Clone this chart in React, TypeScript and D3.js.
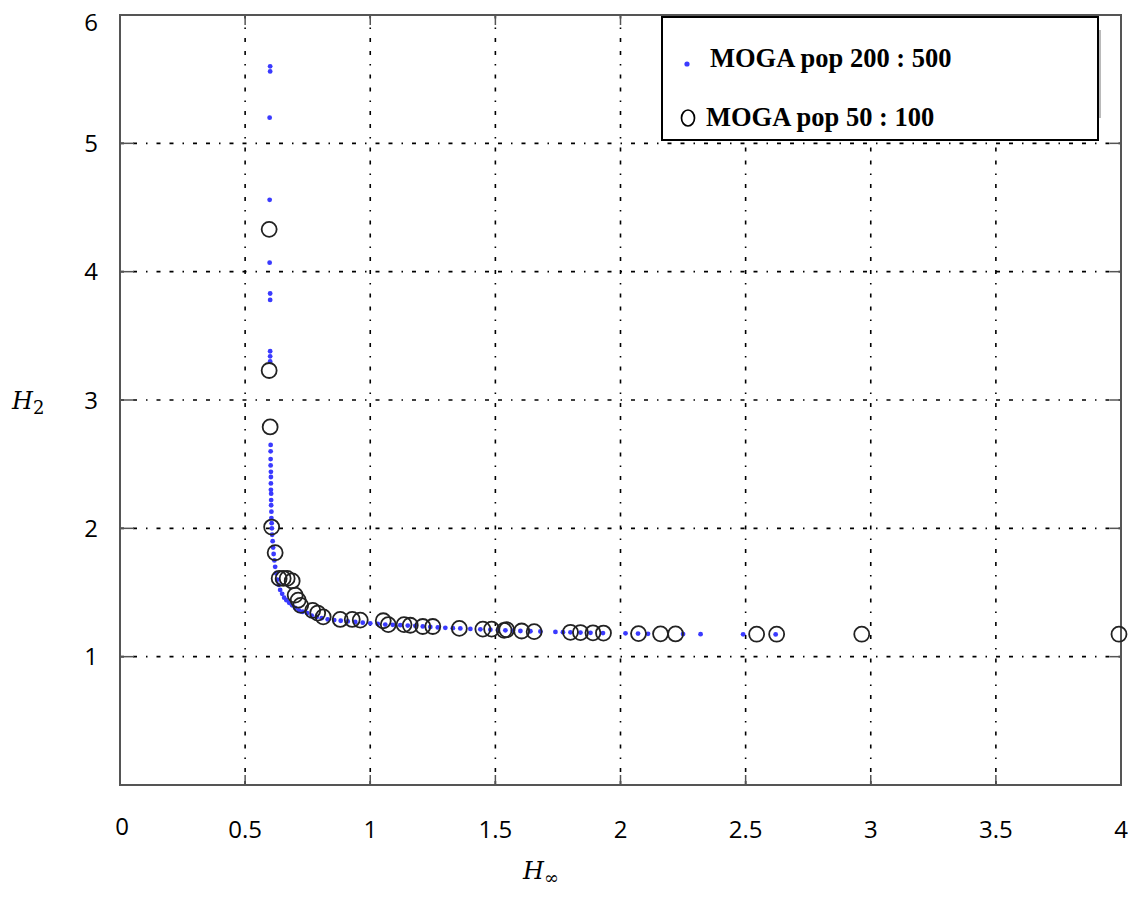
import React from 'react';
import * as d3 from 'd3';

// MOGA pop 200 : 500 (small blue dots)
const moga200X = [
  0.600, 0.600, 0.598, 0.598, 0.598, 0.600, 0.600, 0.600, 0.600, 0.600,
  0.602, 0.602, 0.602, 0.602, 0.603, 0.603, 0.603, 0.603, 0.604, 0.604, 0.604, 0.605, 0.605, 0.606, 0.607, 0.608,
  0.610, 0.612, 0.614, 0.617, 0.620, 0.624, 0.628, 0.634, 0.640, 0.648, 0.656, 0.665, 0.676, 0.688, 0.700,
  0.715, 0.730, 0.748, 0.766, 0.786, 0.806, 0.830, 0.856, 0.882, 0.910, 0.940, 0.970, 1.000, 1.030, 1.060,
  1.090, 1.120, 1.150, 1.180, 1.210, 1.240, 1.270, 1.300, 1.330, 1.360, 1.400, 1.440, 1.480, 1.510, 1.540,
  1.570, 1.600, 1.640, 1.680, 1.740, 1.770, 1.800, 1.840, 1.880, 1.930, 2.020, 2.070, 2.110, 2.250, 2.320,
  2.490, 2.620,
];
const moga200Y = [
  5.60, 5.56, 5.20, 4.56, 4.07, 3.83, 3.78, 3.38, 3.34, 3.30,
  2.65, 2.60, 2.54, 2.49, 2.44, 2.40, 2.35, 2.30, 2.27, 2.22, 2.18, 2.13, 2.08, 2.04, 2.00, 1.95,
  1.90, 1.85, 1.80, 1.75, 1.70, 1.65, 1.60, 1.56, 1.52, 1.49, 1.46, 1.44, 1.42, 1.40, 1.38,
  1.36, 1.35, 1.34, 1.32, 1.31, 1.30, 1.29, 1.285, 1.28, 1.275, 1.27, 1.265, 1.26, 1.255, 1.25,
  1.248, 1.245, 1.242, 1.24, 1.236, 1.232, 1.228, 1.225, 1.222, 1.22, 1.216, 1.213, 1.21, 1.207, 1.205,
  1.203, 1.20, 1.198, 1.196, 1.193, 1.191, 1.19, 1.188, 1.186, 1.184, 1.182, 1.18, 1.178, 1.176, 1.175,
  1.174, 1.173,
];

// MOGA pop 50 : 100 (open circles)
const moga50X = [
  0.596, 0.596, 0.600, 0.606, 0.620, 0.636, 0.652, 0.668, 0.688, 0.700, 0.712, 0.722,
  0.770, 0.790, 0.812, 0.880, 0.928, 0.960, 1.052, 1.072, 1.135, 1.160, 1.210, 1.250,
  1.356, 1.450, 1.485, 1.535, 1.545, 1.605, 1.655, 1.800, 1.840, 1.890, 1.932,
  2.072, 2.160, 2.220, 2.544, 2.624, 2.964, 3.992,
];
const moga50Y = [
  4.33, 3.23, 2.79, 2.01, 1.81, 1.61, 1.61, 1.61, 1.59, 1.48, 1.44, 1.40,
  1.36, 1.34, 1.31, 1.29, 1.29, 1.285, 1.28, 1.25, 1.25, 1.245, 1.235, 1.235,
  1.22, 1.215, 1.215, 1.205, 1.21, 1.20, 1.195, 1.19, 1.188, 1.186, 1.184,
  1.18, 1.178, 1.177, 1.175, 1.175, 1.175, 1.175,
];

const xTicks = [0, 0.5, 1, 1.5, 2, 2.5, 3, 3.5, 4];
const yTicks = [1, 2, 3, 4, 5, 6];
const legendLabels = ['MOGA pop 200 : 500', 'MOGA pop 50 : 100'];

const W = 1128;
const H = 899;
const margin = { top: 15, right: 7, bottom: 114, left: 120 };

const App = () => {
  const x = d3.scaleLinear().domain([0, 4]).range([margin.left, W - margin.right]);
  const y = d3.scaleLinear().domain([0, 6]).range([H - margin.bottom, margin.top]);
  const [x0, x1] = x.range();
  const [y0, y1] = y.range();

  const gridDash = '4,9,4,9,1.5,9';
  const tickFont = "'Open Sans', 'Noto Sans', sans-serif";
  const legendFont = "'Liberation Serif', 'Times New Roman', serif";
  const frame = '#555';

  const dots = moga200X.map((v, i) => ({ x: v, y: moga200Y[i] }));
  const rings = moga50X.map((v, i) => ({ x: v, y: moga50Y[i] }));

  return (
    <svg width={W} height={H} style={{ position: 'absolute', left: 0, top: 0, background: '#fff' }}>
      {/* grid */}
      {xTicks.filter(t => t > 0 && t < 4).map(t => (
        <line key={'gx' + t} x1={x(t)} x2={x(t)} y1={y0} y2={y1}
          stroke="#000" strokeWidth={1.6} strokeDasharray={gridDash} />
      ))}
      {yTicks.filter(t => t < 6).map(t => (
        <line key={'gy' + t} x1={x0} x2={x1} y1={y(t)} y2={y(t)}
          stroke="#000" strokeWidth={1.6} strokeDasharray={gridDash} />
      ))}

      {/* inner ticks on all sides */}
      {xTicks.filter(t => t > 0 && t < 4).map(t => (
        <g key={'tx' + t} stroke={frame} strokeWidth={1.5}>
          <line x1={x(t)} x2={x(t)} y1={y0} y2={y0 - 10} />
          <line x1={x(t)} x2={x(t)} y1={y1} y2={y1 + 10} />
        </g>
      ))}
      {yTicks.filter(t => t < 6).map(t => (
        <g key={'ty' + t} stroke={frame} strokeWidth={1.5}>
          <line x1={x0} x2={x0 + 14} y1={y(t)} y2={y(t)} />
          <line x1={x1} x2={x1 - 11} y1={y(t)} y2={y(t)} />
        </g>
      ))}

      {/* frame */}
      <rect x={x0} y={y1} width={x1 - x0} height={y0 - y1} fill="none" stroke={frame} strokeWidth={2} />

      {/* series: pop 200 : 500 */}
      {dots.map((d, i) => (
        <circle key={'d' + i} cx={x(d.x)} cy={y(d.y)} r={2.4} fill="#3a3aff" />
      ))}
      {/* series: pop 50 : 100 */}
      {rings.map((d, i) => (
        <circle key={'r' + i} cx={x(d.x)} cy={y(d.y)} r={7.5} fill="none" stroke="#222" strokeWidth={1.8} />
      ))}

      {/* tick labels */}
      {xTicks.map(t => (
        <text key={'lx' + t} x={x(t) + (t === 0 ? 2 : 0)} y={t === 0 ? 835 : 838}
          textAnchor="middle" fontFamily={tickFont} fontSize={24} fill="#000">
          {t}
        </text>
      ))}
      {yTicks.map(t => (
        <text key={'ly' + t} x={98} y={y(t) + (t === 6 ? 7 : 0)} dy="0.36em"
          textAnchor="end" fontFamily={tickFont} fontSize={24} fill="#000">
          {t}
        </text>
      ))}

      {/* axis titles */}
      <text x={12} y={409} fontFamily="'DejaVu Serif', serif" fontSize={24} fill="#000">
        <tspan fontStyle="italic">H</tspan>
        <tspan fontSize={18} dy={5}>2</tspan>
      </text>
      <text x={523} y={879} fontFamily="'DejaVu Serif', serif" fontSize={24} fill="#000">
        <tspan fontStyle="italic">H</tspan>
        <tspan fontSize={18} dy={5}>∞</tspan>
      </text>

      {/* legend */}
      <g>
        <rect x={662} y={17} width={436} height={123} fill="#fff" stroke="#000" strokeWidth={2} />
        <line x1={1100} x2={1100} y1={30} y2={118} stroke="#777" strokeWidth={1} />
        <circle cx={687} cy={64} r={2.6} fill="#3a3aff" />
        <text x={710} y={67} fontFamily={legendFont} fontWeight="bold" fontSize={26.5} fill="#000">
          {legendLabels[0]}
        </text>
        <ellipse cx={688} cy={118} rx={6.5} ry={8} fill="none" stroke="#000" strokeWidth={1.7} />
        <text x={706} y={126} fontFamily={legendFont} fontWeight="bold" fontSize={26.5} fill="#000">
          {legendLabels[1]}
        </text>
      </g>
    </svg>
  );
};

export default App;
